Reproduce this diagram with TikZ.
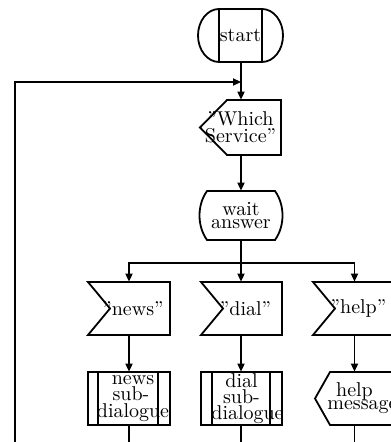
\documentclass[tikz,border=0pt]{standalone}
\usetikzlibrary{arrows.meta}
\begin{document}
\begin{tikzpicture}[x=0.5pt,y=-0.5pt,
  shp/.style={line width=0.9pt, line join=miter},
  conn/.style={line width=0.6pt},
  arr/.style={conn,-{Triangle[length=4pt,width=3.6pt]}},
  box/.style={inner sep=0pt, align=center, font=\fontsize{10}{6.5}\selectfont}]
\useasboundingbox (0,0) rectangle (390,442);
% nodes
\node[box, minimum width=43pt, minimum height=26.5pt] (start) at (240.5,35.5) {start};
\node[box, minimum width=40.5pt, minimum height=27.5pt] (which) at (240.5,127.5) {''Which\\Service''};
\node[box, minimum width=41pt, minimum height=24.5pt] (wait) at (241,215.5) {wait\\answer};
\node[box, minimum width=41pt, minimum height=26.5pt] (newsin) at (129,308.5) {\hspace*{4pt}''news''};
\node[box, minimum width=40.5pt, minimum height=26.5pt] (dialin) at (241.5,308.5) {\hspace*{4pt}''dial''};
\node[box, minimum width=41.5pt, minimum height=26.5pt] (helpin) at (354.5,308.5) {\hspace*{4pt}''help''};
\node[box, minimum width=41pt, minimum height=26.5pt] (newssub) at (129,398.5) {\hspace*{4pt}news\\\hspace*{2pt}sub-\\\hspace*{4pt}dialogue};
\node[box, minimum width=40.5pt, minimum height=26.5pt] (dialsub) at (241.5,398.5) {dial\\sub-\\\hspace*{6pt}dialogue};
\node[box, minimum width=41.5pt, minimum height=26.5pt] (helpmsg) at (354.5,398.5) {help\\\hspace*{8pt}message};
% shapes
\draw[shp] (219,9) -- (262,9) arc[start angle=90,end angle=-90,x radius=10.5pt,y radius=13.25pt] -- (219,62) arc[start angle=270,end angle=90,x radius=10.5pt,y radius=13.25pt] -- cycle;
\draw[shp] (219,9) -- (219,62) (262,9) -- (262,62);
\draw[shp] (227,100) -- (281,100) -- (281,155) -- (227,155) -- (200,127.5) -- cycle;
\draw[shp] (207,191) -- (275,191) .. controls (285,205) and (285,226) .. (275,240) -- (207,240) .. controls (197,226) and (197,205) .. (207,191) -- cycle;
\draw[shp] (88,282) -- (170,282) -- (170,335) -- (88,335) -- (110,308.5) -- cycle;
\draw[shp] (201,282) -- (282,282) -- (282,335) -- (201,335) -- (223,308.5) -- cycle;
\draw[shp] (313,282) -- (396,282) -- (396,335) -- (313,335) -- (335,308.5) -- cycle;
\draw[shp] (88,372) rectangle (170,425) (98,372) -- (98,425) (158,372) -- (158,425);
\draw[shp] (201,372) rectangle (282,425) (212,372) -- (212,425) (270,372) -- (270,425);
\draw[shp] (330,372) -- (396,372) -- (396,425) -- (330,425) -- (315,398.5) -- cycle;
% coordinates
\coordinate (merge) at (241,82);
\coordinate (loopend) at (15,442);
\coordinate (br) at (241,263);
\coordinate (e1) at (129,442);
\coordinate (e2) at (241,442);
\coordinate (e3) at (354.5,442);
% connectors
\draw[arr] (start.south -| merge) -- (which.north -| merge);
\draw[arr] (loopend) |- (merge);
\draw[arr] (which.south -| merge) -- (wait.north -| merge);
\draw[conn] (wait.south -| br) -- (br);
\draw[arr] (br) -| (newsin.north);
\draw[arr] (br) -- (dialin.north -| br);
\draw[arr] (br) -| (helpin.north);
\draw[arr] (newsin) -- (newssub);
\draw[arr] (dialin.south -| br) -- (dialsub.north -| br);
\draw[arr] (helpin) -- (helpmsg);
\draw[conn] (newssub) -- (e1);
\draw[conn] (dialsub.south -| e2) -- (e2);
\draw[conn] (helpmsg) -- (e3);
\end{tikzpicture}
\end{document}
